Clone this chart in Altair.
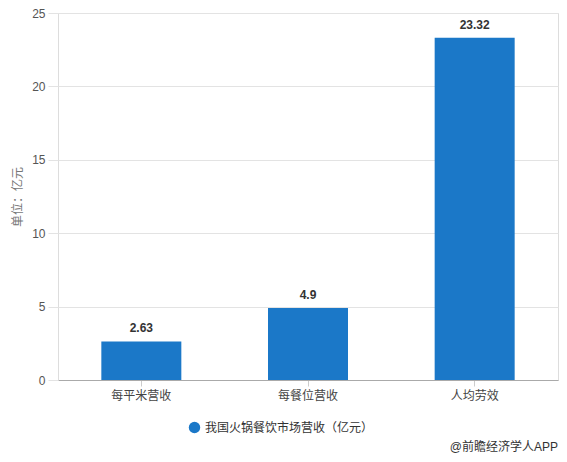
import altair as alt
import pandas as pd

categories = ["每平米营收", "每餐位营收", "人均劳效"]
values = [2.63, 4.9, 23.32]
series_name = "我国火锅餐饮市场营收（亿元）"
y_ticks = [0, 5, 10, 15, 20, 25]
source_note = "@前瞻经济学人APP"

df = pd.DataFrame({"cat": categories, "val": values, "series": series_name})

FONT = "Liberation Sans, Noto Sans CJK SC, sans-serif"
BLUE = "#1b78c8"

base = alt.Chart(df)

bars = base.mark_bar(size=80).encode(
    x=alt.X("cat:N", sort=categories, title=None,
            scale=alt.Scale(paddingInner=0, paddingOuter=0),
            axis=alt.Axis(labelAngle=0, labelFontSize=12, labelColor="#444",
                          labelFont=FONT, domainColor="#aaa", tickColor="#ccc",
                          tickSize=6, labelPadding=4, ticks=True, grid=False)),
    y=alt.Y("val:Q", title="单位：亿元",
            scale=alt.Scale(domain=[0, 25], nice=False),
            axis=alt.Axis(values=y_ticks, domain=False, tickSize=10,
                          tickColor="#e3e3e3", gridColor="#e3e3e3",
                          labelFontSize=12, labelColor="#555", labelFont=FONT,
                          labelPadding=3, titleFontSize=12, titleColor="#777",
                          titleFont=FONT, titleFontWeight="normal", titlePadding=7)),
    color=alt.Color("series:N", scale=alt.Scale(range=[BLUE]),
                    legend=alt.Legend(title=None, orient="none", legendX=130,
                                      legendY=408, symbolType="circle",
                                      symbolSize=130, labelFontSize=12,
                                      labelFont=FONT, labelColor="#333",
                                      labelLimit=400)),
)

labels = base.mark_text(baseline="bottom", dy=-6, fontSize=12, fontWeight="bold",
                        color="#333", font=FONT).encode(
    x=alt.X("cat:N", sort=categories),
    y="val:Q",
    text=alt.Text("val:Q"),
)

note = alt.Chart(pd.DataFrame({"t": [source_note]})).mark_text(
    align="right", baseline="middle", fontSize=12, color="#333", font=FONT
).encode(x=alt.value(500), y=alt.value(434), text="t:N")

chart = alt.layer(bars, labels, note).properties(
    width=500, height=367,
    autosize=alt.AutoSizeParams(type="none"),
    padding={"left": 50, "top": 5, "right": 1, "bottom": 74},
).configure_view(stroke=None).configure(background="white")

chart.save("out.html", embed_options={"renderer": "svg", "actions": False})
